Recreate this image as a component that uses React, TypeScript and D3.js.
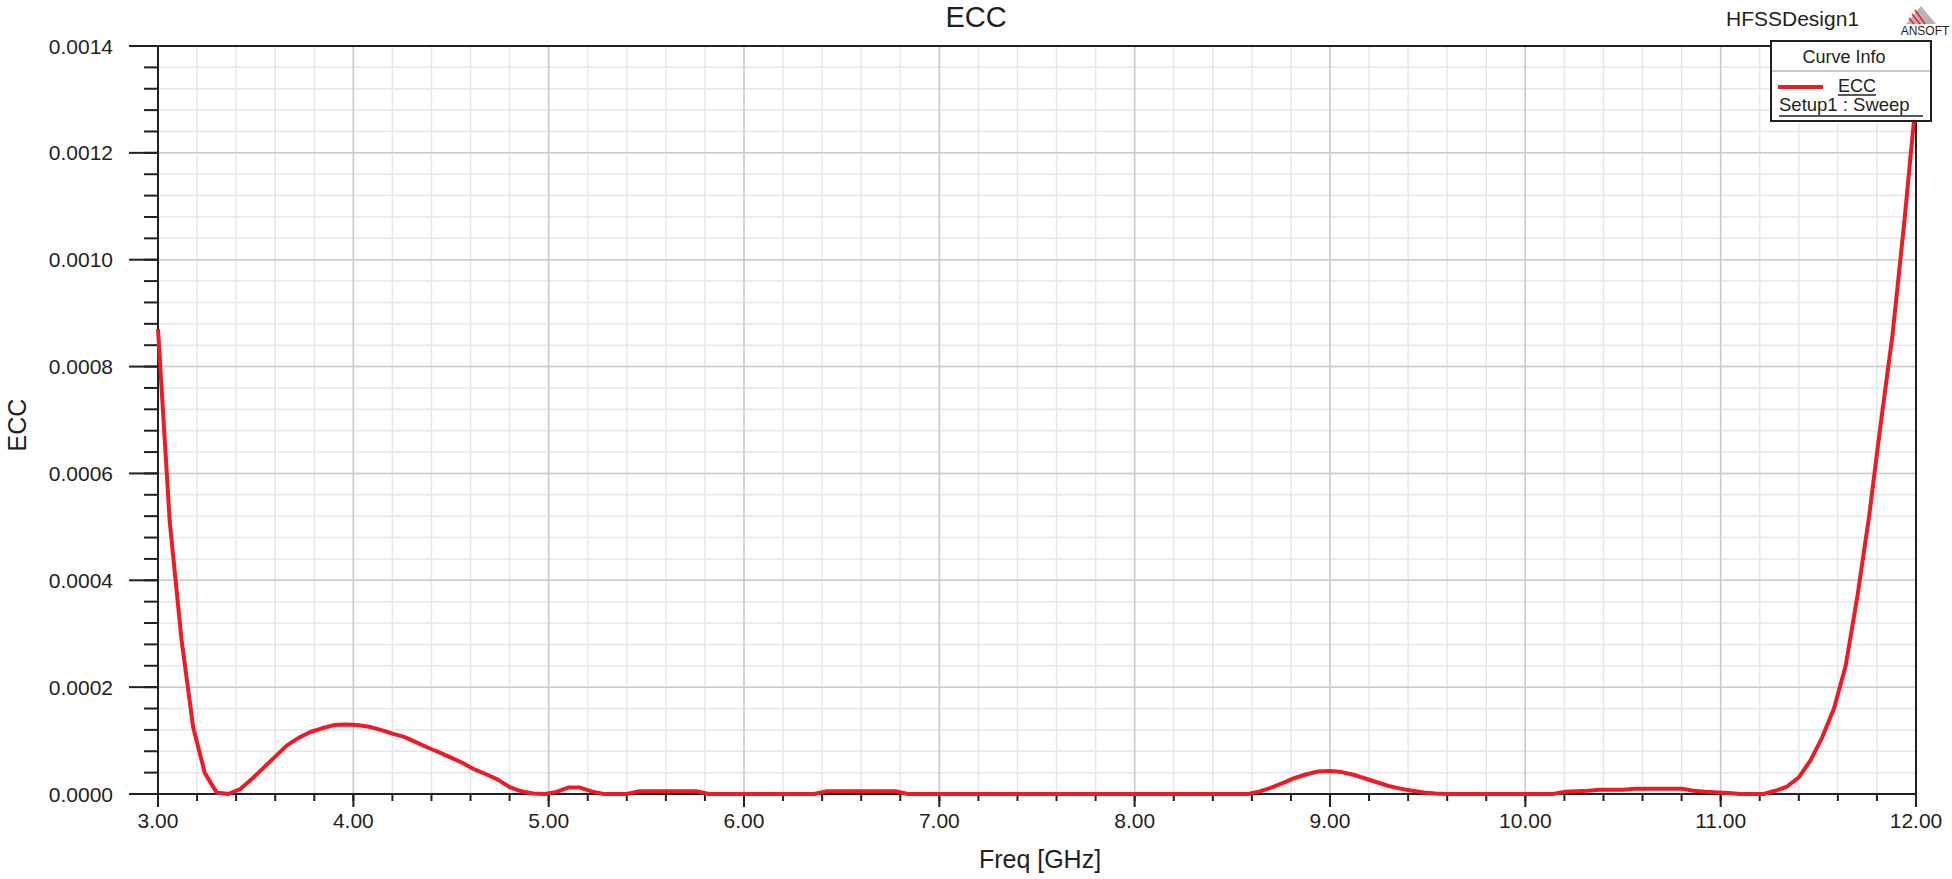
import React from 'react';
import * as d3 from 'd3';

// frequency points (GHz) and ECC values
const freq = [
  3.0, 3.06, 3.12, 3.18, 3.24, 3.3, 3.36, 3.42, 3.48, 3.54, 3.6, 3.66, 3.72, 3.78, 3.84, 3.9,
  3.96, 4.02, 4.08, 4.14, 4.2, 4.26, 4.32, 4.38, 4.44, 4.5, 4.56, 4.62, 4.68, 4.74, 4.8, 4.86,
  4.92, 4.98, 5.04, 5.1, 5.16, 5.22, 5.28, 5.4, 5.46, 5.76, 5.82, 6.36, 6.42, 6.78, 6.84,
  8.58, 8.64, 8.7, 8.76, 8.82, 8.88, 8.94, 9.0, 9.06, 9.12, 9.18, 9.24, 9.3, 9.36, 9.42, 9.48,
  9.54, 9.6, 10.14, 10.2, 10.32, 10.38, 10.5, 10.56, 10.8, 10.86, 10.92, 11.04, 11.1, 11.22,
  11.28, 11.34, 11.4, 11.46, 11.52, 11.58, 11.64, 11.7, 11.76, 11.82, 11.88, 11.94, 12.0,
];
const ecc = [
  8.7e-4, 5.1e-4, 2.9e-4, 1.25e-4, 3.9e-5, 3e-6, 0, 9e-6, 2.8e-5, 4.9e-5, 7.0e-5, 9.1e-5, 1.05e-4, 1.16e-4, 1.23e-4, 1.29e-4,
  1.3e-4, 1.29e-4, 1.26e-4, 1.2e-4, 1.13e-4, 1.07e-4, 9.7e-5, 8.7e-5, 7.8e-5, 6.8e-5, 5.8e-5, 4.6e-5, 3.7e-5, 2.7e-5, 1.3e-5, 5e-6,
  1e-6, 0, 4e-6, 1.2e-5, 1.2e-5, 5e-6, 0, 0, 5e-6, 5e-6, 0, 0, 5e-6, 5e-6, 0,
  0, 5e-6, 1.2e-5, 2.1e-5, 3.0e-5, 3.7e-5, 4.2e-5, 4.3e-5, 4.1e-5, 3.6e-5, 2.9e-5, 2.2e-5, 1.5e-5, 1.0e-5, 6e-6, 3e-6,
  1e-6, 0, 0, 4e-6, 6e-6, 8e-6, 8e-6, 1.0e-5, 1.0e-5, 6e-6, 4e-6, 2e-6, 0, 0,
  6e-6, 1.4e-5, 3.1e-5, 6.3e-5, 1.06e-4, 1.6e-4, 2.4e-4, 3.7e-4, 5.2e-4, 6.95e-4, 8.6e-4, 1.07e-3, 1.3e-3,
];

const xTicks = [3, 4, 5, 6, 7, 8, 9, 10, 11, 12];
const yTicks = [0, 0.0002, 0.0004, 0.0006, 0.0008, 0.001, 0.0012, 0.0014];

const W = 1952;
const H = 879;
const left = 158;
const right = 1916;
const top = 46;
const bottom = 794;
const ink = '#231f20';
const red = '#ed1c24';
const font = '"Liberation Sans", Arial, Helvetica, sans-serif';

export default function App() {
  const x = d3.scaleLinear().domain([3, 12]).range([left, right]);
  const y = d3.scaleLinear().domain([0, 0.0014]).range([bottom, top]);

  const xMinor = d3.range(0, 46).map(i => 3 + i * 0.2);
  const yMinor = d3.range(0, 36).map(i => i * 0.00004);

  const line = d3.line<number>()
    .x((_, i) => x(freq[i]))
    .y(d => y(d));

  return (
    <svg width={W} height={H} style={{ position: 'absolute', left: 0, top: 0, background: '#fff' }} fontFamily={font}>
      {/* grid */}
      {xMinor.map((t, i) => (
        <line key={'gx' + i} x1={x(t)} x2={x(t)} y1={top} y2={bottom} stroke="#e6e6e6" strokeWidth={1.5} />
      ))}
      {yMinor.map((t, i) => (
        <line key={'gy' + i} x1={left} x2={right} y1={y(t)} y2={y(t)} stroke="#e6e6e6" strokeWidth={1.5} />
      ))}
      {xTicks.map(t => (
        <line key={'Gx' + t} x1={x(t)} x2={x(t)} y1={top} y2={bottom} stroke="#cbcbcb" strokeWidth={1.5} />
      ))}
      {yTicks.map(t => (
        <line key={'Gy' + t} x1={left} x2={right} y1={y(t)} y2={y(t)} stroke="#cbcbcb" strokeWidth={1.5} />
      ))}

      {/* frame */}
      <line x1={129} x2={right} y1={top} y2={top} stroke={ink} strokeWidth={2} />
      <line x1={129} x2={right} y1={bottom} y2={bottom} stroke={ink} strokeWidth={2} />
      <line x1={left} x2={left} y1={top} y2={bottom} stroke={ink} strokeWidth={2} />
      <line x1={right} x2={right} y1={top} y2={bottom} stroke={ink} strokeWidth={2} />

      {/* y ticks */}
      {yMinor.map((t, i) => (
        <line key={'ty' + i} x1={144} x2={left} y1={y(t)} y2={y(t)} stroke={ink} strokeWidth={2} />
      ))}
      {yTicks.map(t => (
        <g key={'Ty' + t}>
          <line x1={129} x2={left} y1={y(t)} y2={y(t)} stroke={ink} strokeWidth={2} />
          <text x={113} y={y(t)} dy="0.36em" textAnchor="end" fontSize={21} fill={ink}>{t.toFixed(4)}</text>
        </g>
      ))}

      {/* x ticks */}
      {xMinor.map((t, i) => (
        <line key={'tx' + i} x1={x(t)} x2={x(t)} y1={bottom} y2={bottom + 7} stroke={ink} strokeWidth={2} />
      ))}
      {xTicks.map(t => (
        <g key={'Tx' + t}>
          <line x1={x(t)} x2={x(t)} y1={bottom} y2={bottom + 13} stroke={ink} strokeWidth={2} />
          <text x={x(t)} y={828} textAnchor="middle" fontSize={21} fill={ink}>{t.toFixed(2)}</text>
        </g>
      ))}

      {/* curve */}
      <path d={line(ecc) || ''} fill="none" stroke={red} strokeWidth={4} strokeLinejoin="round" />

      {/* titles */}
      <text x={976} y={27} textAnchor="middle" fontSize={29} fill={ink}>ECC</text>
      <text x={1040} y={868} textAnchor="middle" fontSize={25} fill={ink}>Freq [GHz]</text>
      <text transform="translate(26,425) rotate(-90)" textAnchor="middle" fontSize={25} fill={ink}>ECC</text>
      <text x={1726} y={26} fontSize={21} fill={ink}>HFSSDesign1</text>

      {/* ANSOFT mark */}
      <g>
        <polygon points="1921,6 1936,24 1906,24" fill="#b5b5b5" />
        <line x1={1915} y1={10} x2={1925} y2={24} stroke={red} strokeWidth={1.5} />
        <line x1={1912} y1={14} x2={1920} y2={24} stroke={red} strokeWidth={1.5} />
        <line x1={1909} y1={18} x2={1914} y2={24} stroke={red} strokeWidth={1.5} />
        <text x={1925} y={35} textAnchor="middle" fontSize={12} fill={ink}>ANSOFT</text>
      </g>

      {/* legend */}
      <g>
        <rect x={1771} y={41} width={160} height={80} fill="#fff" stroke={ink} strokeWidth={2} />
        <text x={1844} y={63} textAnchor="middle" fontSize={18} fill={ink}>Curve Info</text>
        <line x1={1772} x2={1930} y1={71} y2={71} stroke="#c8c8c8" strokeWidth={2} />
        <line x1={1778} x2={1823} y1={87} y2={87} stroke={red} strokeWidth={4} />
        <text x={1838} y={92} fontSize={18} fill={ink}>ECC</text>
        <line x1={1838} x2={1876} y1={95} y2={95} stroke={ink} strokeWidth={1.5} />
        <text x={1779} y={111} fontSize={18.5} fill={ink}>Setup1 : Sweep</text>
        <line x1={1779} x2={1923} y1={116} y2={116} stroke={ink} strokeWidth={1.5} />
      </g>
    </svg>
  );
}
